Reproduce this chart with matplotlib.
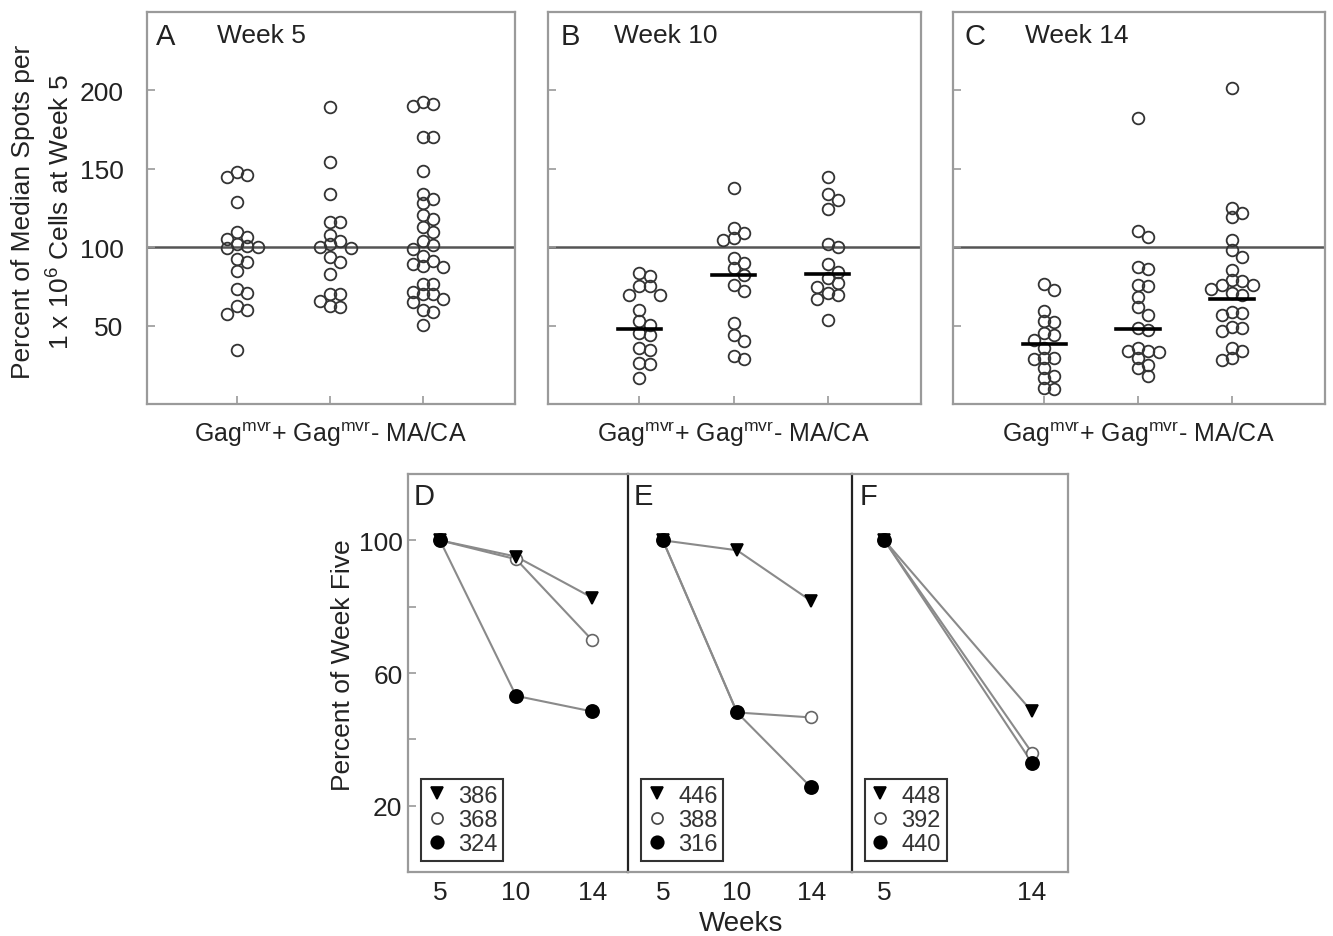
import numpy as np
import matplotlib
matplotlib.use("Agg")
import matplotlib.pyplot as plt
from matplotlib.lines import Line2D

plt.rcParams['font.family'] = ['Liberation Sans', 'DejaVu Sans']
plt.rcParams['mathtext.default'] = 'regular'

# ---------------- data ----------------
groups = ["Gag$^{mvr}$+", "Gag$^{mvr}$-", "MA/CA"]
week_titles = ["Week 5", "Week 10", "Week 14"]
panel_letters_top = ["A", "B", "C"]

A_gag_pos = [147.8, 146.3, 144.6, 128.7, 109.6, 106.8, 105.3, 102.1, 101.0, 100.0, 99.4,
             92.6, 90.4, 85.1, 73.5, 70.7, 62.8, 59.7, 57.5, 34.2]
A_gag_neg = [189.6, 154.1, 134.0, 116.3, 116.3, 107.9, 104.0, 102.0, 100.0, 99.4, 93.6,
             90.4, 83.0, 70.3, 70.3, 66.0, 62.8, 61.8]
A_maca = [192.4, 191.5, 190.2, 170.5, 170.0, 148.8, 134.0, 130.8, 128.2, 120.6, 118.0,
          112.7, 110.0, 104.2, 101.5, 98.9, 94.3, 91.5, 89.4, 88.3, 87.3, 76.6, 76.6,
          71.3, 70.3, 70.3, 67.0, 65.0, 59.7, 58.6, 50.1]

B_gag_pos = [83.5, 81.4, 75.0, 75.0, 69.7, 69.7, 60.2, 52.8, 50.6, 45.3, 44.3, 35.8,
             34.7, 26.3, 25.2, 16.7]
B_gag_neg = [137.5, 112.0, 108.9, 105.7, 104.7, 93.0, 89.8, 86.7, 82.4, 76.0, 71.8,
             51.7, 44.3, 40.0, 30.5, 28.4]
B_maca = [144.9, 133.7, 130.0, 124.2, 101.9, 100.4, 89.2, 84.5, 80.3, 77.0, 74.6, 70.8,
          69.7, 67.2, 53.8]

C_gag_pos = [76.8, 73.0, 59.5, 53.2, 52.5, 45.0, 44.0, 41.0, 35.7, 29.3, 29.3, 28.5,
             23.0, 17.7, 16.7, 10.3, 9.3]
C_gag_neg = [182.3, 110.5, 106.3, 87.3, 86.3, 75.7, 75.0, 68.4, 62.0, 56.8, 48.3, 47.3,
             35.7, 33.5, 33.5, 33.0, 29.3, 25.0, 23.0, 18.1]
C_maca = [201.3, 125.3, 122.0, 119.4, 104.6, 98.3, 93.7, 85.7, 79.3, 78.3, 75.7, 75.7,
          73.6, 70.5, 69.4, 58.9, 57.8, 56.8, 49.4, 48.3, 46.6, 35.7, 33.5, 29.3, 28.3]

week_data = [[A_gag_pos, A_gag_neg, A_maca],
             [B_gag_pos, B_gag_neg, B_maca],
             [C_gag_pos, C_gag_neg, C_maca]]
# median bars (none drawn in week 5)
week_medians = [None, [48.0, 82.5, 83.0], [38.0, 47.7, 66.7]]
reference_level = 100

weeks_all = ["5", "10", "14"]
D_ids = ["386", "368", "324"]
D_vals = [[100, 95.1, 82.7], [100, 94.3, 69.9], [100, 53.1, 48.4]]
E_ids = ["446", "388", "316"]
E_vals = [[100, 97.0, 81.7], [100, 48.1, 46.6], [100, 48.1, 25.5]]
F_ids = ["448", "392", "440"]
F_weeks = ["5", "14"]
F_vals = [[100, 48.4], [100, 36.0], [100, 33.0]]

# ---------------- layout ----------------
W, H = 1333, 937
fig = plt.figure(figsize=(W / 100, H / 100), dpi=100)


def ax_at(l, t, r, b):
    return fig.add_axes([l / W, 1 - b / H, (r - l) / W, (b - t) / H])


SPINE = '#9a9a9a'
TXT = '#222222'
FS = 19

top_boxes = [(147, 13, 515, 405), (548, 13, 921, 405), (953, 13, 1325, 405)]
letter_x = [156, 561, 964]
title_x = [217, 614, 1025]

marker_d_px = 11.5


def swarm(ax, xc, vals, step):
    placed = []
    xs = []
    for v in vals:
        for k in [0, 1, -1, 2, -2, 3, -3]:
            x = xc + k * step
            p = ax.transData.transform((x, v))
            ok = all(np.hypot(*(p - q)) >= 0.78 * marker_d_px for q in placed)
            if ok:
                break
        placed.append(p)
        xs.append(x)
    return xs


for i in range(3):
    l, t, r, b = top_boxes[i]
    ax = ax_at(l, t, r, b)
    ax.set_xlim(0.03, 3.99)
    ax.set_ylim(0, 250)
    for s in ax.spines.values():
        s.set_color(SPINE)
        s.set_linewidth(1.6)
    ax.set_yticks([50, 100, 150, 200])
    ax.set_xticks([1, 2, 3])
    ax.tick_params(direction='in', length=6, width=1.2, color=SPINE,
                   labelsize=FS, labelcolor=TXT, pad=17)
    ax.set_xticklabels([])
    if i > 0:
        ax.set_yticklabels([])
    ax.axhline(reference_level, color='#555555', lw=1.8, zorder=1)
    for g in range(3):
        vals = week_data[i][g]
        xs = swarm(ax, g + 1, vals, 0.11)
        ax.plot(xs, vals, 'o', ms=8.4, mfc='none', mec='#333333', mew=1.3, zorder=3)
        if week_medians[i] is not None:
            m = week_medians[i][g]
            ax.plot([g + 1 - 0.23, g + 1 + 0.23], [m, m], color='black', lw=2.6, zorder=4)
    fig.text(letter_x[i] / W, 1 - 37 / H, panel_letters_top[i], fontsize=21,
             color=TXT, va='center', ha='left')
    fig.text(title_x[i] / W, 1 - 36 / H, week_titles[i], fontsize=FS,
             color=TXT, va='center', ha='left')
    fig.text(((l + r) / 2 - 1) / W, 1 - 435 / H, " ".join(groups), fontsize=18,
             color=TXT, ha='center', va='center')

fig.text(23 / W, 1 - 212 / H, "Percent of Median Spots per", rotation=90,
         fontsize=FS, color=TXT, ha='center', va='center')
fig.text(61 / W, 1 - 212 / H, "1 x 10$^6$ Cells at Week 5", rotation=90,
         fontsize=FS, color=TXT, ha='center', va='center')

# ---------------- bottom panels ----------------
bot_boxes = [(408, 475, 628, 873), (628, 475, 852, 873), (852, 475, 1068, 873)]
bot_letters = ["D", "E", "F"]
bot_letter_x = [414, 634, 860]
bot_ids = [D_ids, E_ids, F_ids]
bot_vals = [D_vals, E_vals, F_vals]
bot_xpos = [[0, 1, 2], [0, 1, 2], [0, 2]]
bot_xlabels = [weeks_all, weeks_all, F_weeks]
bot_xlims = [(-0.42, 2.47), (-0.47, 2.55), (-0.44, 2.49)]
markers = [dict(marker='v', mfc='black', mec='black'),
           dict(marker='o', mfc='white', mec='#666666'),
           dict(marker='o', mfc='black', mec='black')]
ms_list = [9, 8.5, 9.5]

for i in range(3):
    l, t, r, b = bot_boxes[i]
    ax = ax_at(l, t, r, b)
    ax.set_ylim(0, 120)
    ax.set_xlim(*bot_xlims[i])
    for s in ax.spines.values():
        s.set_color(SPINE)
        s.set_linewidth(1.6)
    if i < 2:
        ax.spines['right'].set_visible(False)
    if i > 0:
        ax.spines['left'].set_color('#222222')
        ax.spines['left'].set_linewidth(1.6)
    ax.set_xticks(bot_xpos[i])
    ax.set_xticklabels(bot_xlabels[i])
    ax.tick_params(axis='x', length=0, pad=6, labelsize=FS, labelcolor=TXT)
    if i == 0:
        ax.set_yticks([20, 40, 60, 80, 100])
        ax.set_yticklabels(["20", "", "60", "", "100"])
        ax.tick_params(axis='y', direction='in', length=6, width=1.2, color=SPINE,
                       labelsize=FS, labelcolor=TXT, pad=4)
    else:
        ax.set_yticks([])
    handles = []
    for j in range(3):
        vals = bot_vals[i][j]
        ax.plot(bot_xpos[i], vals, '-', color='#8a8a8a', lw=1.5, zorder=2)
    for j in [1, 0, 2]:
        vals = bot_vals[i][j]
        ax.plot(bot_xpos[i], vals, linestyle='none', ms=ms_list[j], mew=1.2,
                zorder=3, **markers[j])
    for j in range(3):
        handles.append(Line2D([], [], linestyle='none', ms=ms_list[j] - 0.5, mew=1.2,
                              **{**markers[j], 'mec': 'black' if j != 1 else '#444444'},
                              label=bot_ids[i][j]))
    leg = ax.legend(handles=handles, loc='lower left', bbox_to_anchor=(0.06, 0.027),
                    fontsize=17, frameon=True, fancybox=False, borderpad=0.25,
                    labelspacing=0.1, handlelength=0.8, handletextpad=0.5,
                    borderaxespad=0)
    leg.get_frame().set_edgecolor('black')
    leg.get_frame().set_linewidth(1.5)
    for tx in leg.get_texts():
        tx.set_color('#333333')
    fig.text(bot_letter_x[i] / W, 1 - 497 / H, bot_letters[i], fontsize=21,
             color=TXT, ha='left', va='center')

fig.text(343 / W, 1 - 665 / H, "Percent of Week Five", rotation=90, fontsize=FS,
         color=TXT, ha='center', va='center')
fig.text(741 / W, 1 - 924 / H, "Weeks", fontsize=20, color=TXT, ha='center', va='center')

fig.savefig("out.png", dpi=100, facecolor='white')
